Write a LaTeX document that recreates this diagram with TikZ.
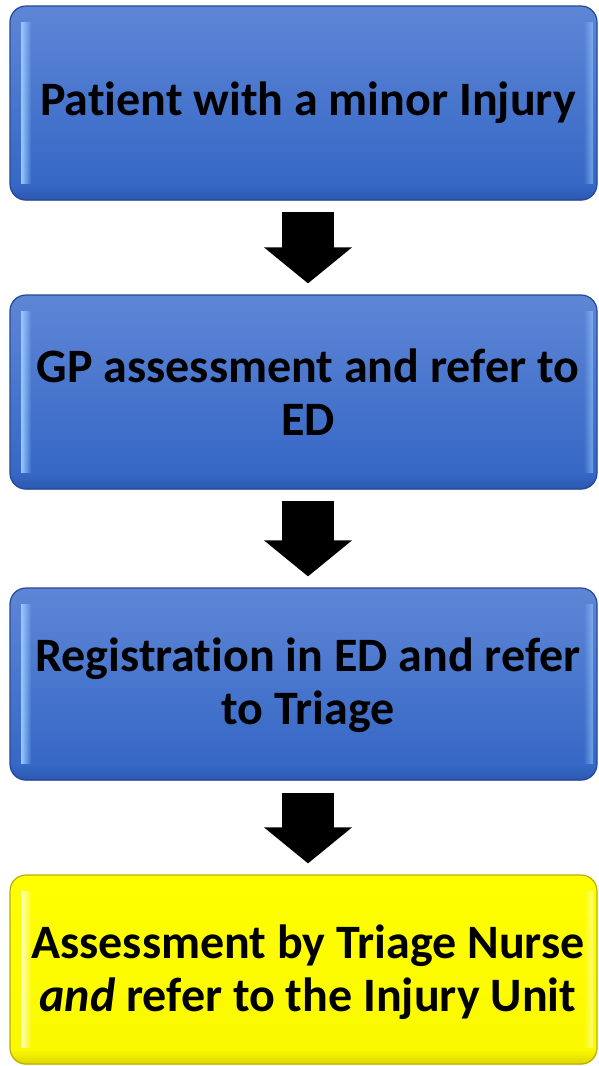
\documentclass[tikz,border=0pt]{standalone}
\usepackage{fontspec}
\setmainfont{Carlito}[Ligatures=NoCommon]
\usetikzlibrary{arrows.meta,calc,fadings}
\definecolor{bluetop}{RGB}{94,134,214}
\definecolor{bluebot}{RGB}{50,101,196}
\definecolor{blueedge}{RGB}{38,72,150}
\definecolor{bluehl}{RGB}{150,200,255}
\definecolor{yeltop}{RGB}{255,255,0}
\definecolor{yelbot}{RGB}{250,248,0}
\definecolor{yeledge}{RGB}{185,175,0}
\definecolor{yelhl}{RGB}{255,255,190}
\tikzfading[name=fadeR, left color=transparent!0, right color=transparent!100]
\tikzfading[name=fadeL, left color=transparent!100, right color=transparent!0]
\tikzfading[name=fadeU, bottom color=transparent!0, top color=transparent!100]
\newcommand{\boxbevel}[3]{%
  \begin{scope}
    \clip[rounded corners=16] (#1.north west) rectangle (#1.south east);
    \fill[#3, opacity=.45, path fading=fadeU] (#1.south west) rectangle ($(#1.south east)+(0,-15)$);
    \fill[#2, path fading=fadeR] ($(#1.north west)+(12,17)$) rectangle ($(#1.south west)+(22,-17)$);
    \fill[#2, opacity=.6, path fading=fadeL] ($(#1.north east)+(-14,17)$) rectangle ($(#1.south east)+(-5,-17)$);
  \end{scope}}
\tikzset{
  stepbox/.style={rectangle, rounded corners=16, minimum width=587pt, inner sep=0pt,
    draw=blueedge, line width=1.2pt, top color=bluetop, bottom color=bluebot},
  yellowbox/.style={stepbox, draw=yeledge, top color=yeltop, bottom color=yelbot},
  steptext/.style={align=center, inner sep=0pt, font=\fontsize{48}{53}\selectfont\bfseries},
  bigarrow/.style={black, line width=52pt, -{Triangle[width=86pt,length=36pt]}}
}
\begin{document}
\begin{tikzpicture}[x=1pt,y=-1pt]
\useasboundingbox (0,0) rectangle (598,1066);
\node[stepbox, minimum height=194pt] (b1) at (303.5,103) {};
\node[stepbox, minimum height=194pt] (b2) at (303.5,392) {};
\node[stepbox, minimum height=192pt] (b3) at (303.5,684) {};
\node[yellowbox, minimum height=189pt] (b4) at (303.5,969.5) {};
\boxbevel{b1}{bluehl}{blueedge}
\boxbevel{b2}{bluehl}{blueedge}
\boxbevel{b3}{bluehl}{blueedge}
\boxbevel{b4}{yelhl}{yeledge}
\node[steptext] (t1) at ($(b1.center)+(4.5,0)$) {Patient with a minor Injury};
\node[steptext] (t2) at ($(b2.center)+(4.5,0)$) {GP assessment and refer to\\ED};
\node[steptext] (t3) at ($(b3.center)+(4.5,1)$) {Registration in ED and refer\\to Triage};
\node[steptext] (t4) at ($(b4.center)+(4.5,3)$) {Assessment by Triage Nurse\\\textit{and} refer to the Injury Unit};
\draw[bigarrow] ($(b1.south)+(4.5,11)$) -- ($(b2.north)+(4.5,-11)$);
\draw[bigarrow] ($(b2.south)+(4.5,11)$) -- ($(b3.north)+(4.5,-11)$);
\draw[bigarrow] ($(b3.south)+(4.5,12)$) -- ($(b4.north)+(4.5,-11)$);
\end{tikzpicture}
\end{document}
